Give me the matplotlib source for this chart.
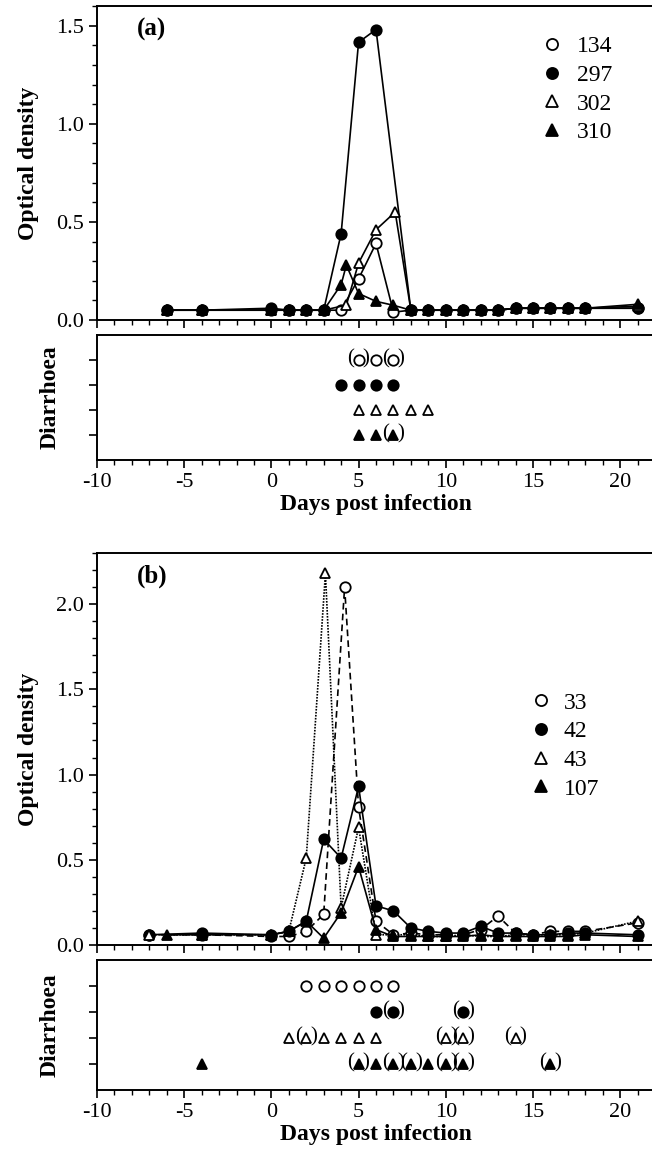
import matplotlib
matplotlib.use("Agg")
import matplotlib.pyplot as plt
from matplotlib.lines import Line2D
from matplotlib.ticker import MultipleLocator, FormatStrFormatter

plt.rcParams['font.family'] = ['Liberation Serif', 'DejaVu Serif']
plt.rcParams['axes.unicode_minus'] = False

# ---- panel (a) optical density ----
days_134 = [-6, -4, 0, 1, 2, 3, 4, 5, 6, 7, 8, 9, 10, 11, 12, 13, 14, 15, 16, 17, 18, 21]
od_134 = [0.05, 0.05, 0.05, 0.05, 0.05, 0.05, 0.05, 0.21, 0.39, 0.04, 0.05, 0.05, 0.05, 0.05,
          0.05, 0.05, 0.06, 0.06, 0.06, 0.06, 0.06, 0.06]
days_297 = [-6, -4, 0, 1, 2, 3, 4, 5, 6, 8, 9, 10, 11, 12, 13, 14, 15, 16, 17, 18, 21]
od_297 = [0.05, 0.05, 0.06, 0.05, 0.05, 0.05, 0.44, 1.415, 1.48, 0.05, 0.05, 0.05, 0.05,
          0.05, 0.05, 0.06, 0.06, 0.06, 0.06, 0.06, 0.06]
days_302 = [-6, -4, 0, 1, 2, 3, 4.3, 5, 6, 7.1, 8, 9, 10, 11, 12, 13, 14, 15, 16, 17, 18, 21]
od_302 = [0.05, 0.05, 0.05, 0.05, 0.05, 0.05, 0.076, 0.29, 0.46, 0.55, 0.05, 0.05, 0.05, 0.05,
          0.05, 0.05, 0.06, 0.06, 0.06, 0.06, 0.06, 0.07]
days_310 = [-6, -4, 0, 1, 2, 3, 4, 4.3, 5, 6, 7, 8, 9, 10, 11, 12, 13, 14, 15, 16, 17, 18, 21]
od_310 = [0.05, 0.05, 0.05, 0.05, 0.05, 0.05, 0.18, 0.28, 0.135, 0.095, 0.075, 0.05, 0.05,
          0.05, 0.05, 0.05, 0.05, 0.06, 0.06, 0.06, 0.06, 0.06, 0.08]

# ---- panel (b) optical density ----
days_33 = [-7, -4, 0, 1, 2, 3, 4.2, 5, 6, 7, 8, 9, 10, 11, 12, 13, 14, 15, 16, 17, 18, 21]
od_33 = [0.06, 0.06, 0.05, 0.05, 0.08, 0.18, 2.10, 0.81, 0.14, 0.06, 0.07, 0.06, 0.06, 0.06,
         0.09, 0.17, 0.07, 0.06, 0.08, 0.08, 0.08, 0.13]
days_42 = [-7, -4, 0, 1, 2, 3, 4, 5, 6, 7, 8, 9, 10, 11, 12, 13, 14, 15, 16, 17, 18, 21]
od_42 = [0.06, 0.07, 0.06, 0.08, 0.14, 0.62, 0.51, 0.93, 0.23, 0.20, 0.10, 0.08, 0.07, 0.07,
         0.11, 0.07, 0.07, 0.06, 0.06, 0.07, 0.07, 0.06]
days_43 = [-7, -4, 0, 1, 2, 3.1, 4, 5, 6, 7, 8, 9, 10, 11, 12, 13, 14, 15, 16, 17, 18, 21]
od_43 = [0.06, 0.06, 0.06, 0.08, 0.51, 2.18, 0.22, 0.69, 0.06, 0.06, 0.06, 0.05, 0.05, 0.06,
         0.05, 0.05, 0.06, 0.06, 0.06, 0.06, 0.07, 0.14]
days_107 = [-6, -4, 0, 1, 2, 3, 4, 5, 6, 7, 8, 9, 10, 11, 12, 13, 14, 15, 16, 17, 18, 21]
od_107 = [0.06, 0.06, 0.06, 0.08, 0.14, 0.04, 0.19, 0.46, 0.09, 0.05, 0.05, 0.05, 0.05, 0.05,
          0.06, 0.05, 0.05, 0.05, 0.05, 0.05, 0.06, 0.05]

# ---- diarrhoea days (1 = bracketed) ----
dia_a_134 = [5, 6, 7];            br_a_134 = [1, 0, 1]
dia_a_297 = [4, 5, 6, 7];         br_a_297 = [0, 0, 0, 0]
dia_a_302 = [5, 6, 7, 8, 9];      br_a_302 = [0, 0, 0, 0, 0]
dia_a_310 = [5, 6, 7];            br_a_310 = [0, 0, 1]

dia_b_33 = [2, 3, 4, 5, 6, 7];    br_b_33 = [0, 0, 0, 0, 0, 0]
dia_b_42 = [6, 7, 11];            br_b_42 = [0, 1, 1]
dia_b_43 = [1, 2, 3, 4, 5, 6, 10, 11, 14]
br_b_43 = [0, 1, 0, 0, 0, 0, 1, 1, 1]
dia_b_107 = [-4, 5, 6, 7, 8, 9, 10, 11, 16]
br_b_107 = [0, 1, 0, 1, 1, 0, 1, 1, 1]

W, H = 652, 1162
fig = plt.figure(figsize=(W / 100, H / 100), dpi=100)


def rect(l, t, r, b):
    return [l / W, 1 - b / H, (r - l) / W, (b - t) / H]


LEFT, RIGHT = 97, 655
XMIN, XMAX = -10, 22

styles = {
    'oo': dict(marker='o', mfc='white', mec='black'),
    'of': dict(marker='o', mfc='black', mec='black'),
    'to': dict(marker='^', mfc='white', mec='black'),
    'tf': dict(marker='^', mfc='black', mec='black'),
}


def style_axes(ax):
    for s in ax.spines.values():
        s.set_linewidth(1.4)
    ax.set_xlim(XMIN, XMAX)
    ax.xaxis.set_major_locator(MultipleLocator(5))
    ax.xaxis.set_minor_locator(MultipleLocator(1))
    ax.tick_params(axis='both', which='major', direction='out', length=6, width=1.2,
                   labelsize=16, top=False, right=False)
    ax.tick_params(axis='both', which='minor', direction='out', length=3.5, width=1.0,
                   top=False, right=False)


def od_panel(ax, series, ymax, tag, tag_y):
    for d, v, st, ls in series:
        ax.plot(d, v, color='black', lw=1.2, ls=ls, ms=7.5, mew=1.3,
                **styles[st], zorder=3)
    style_axes(ax)
    ax.set_ylim(0, ymax)
    ax.yaxis.set_major_locator(MultipleLocator(0.5))
    ax.yaxis.set_minor_locator(MultipleLocator(0.1))
    ax.yaxis.set_major_formatter(FormatStrFormatter('%.1f'))
    ax.tick_params(axis='x', which='both', labelbottom=False)
    ax.set_ylabel('Optical density', fontsize=17, fontweight='bold', labelpad=12)
    ax.text(0.072, tag_y, tag, transform=ax.transAxes, fontsize=18, fontweight='bold',
            va='center', ha='left')


def dia_panel(ax, rows):
    for lvl, (d, br, st) in zip([4, 3, 2, 1], rows):
        ax.plot(d, [lvl] * len(d), ls='none', ms=7.5, mew=1.3, color='black', **styles[st])
        for x, b in zip(d, br):
            if b:
                ax.annotate('(', (x, lvl), xytext=(-5.5, 0.5), textcoords='offset points',
                            ha='center', va='center', fontsize=15)
                ax.annotate(')', (x, lvl), xytext=(5.5, 0.5), textcoords='offset points',
                            ha='center', va='center', fontsize=15)
    style_axes(ax)
    ax.set_ylim(0, 5)
    ax.set_yticks([1, 2, 3, 4])
    ax.tick_params(axis='y', labelleft=False)
    ax.set_ylabel('Diarrhoea', fontsize=17, fontweight='bold', labelpad=20)
    ax.set_xlabel('Days post infection', fontsize=17, fontweight='bold', labelpad=1)


h = [Line2D([], [], ls='none', color='black', ms=8, mew=1.3, **styles[k])
     for k in ['oo', 'of', 'to', 'tf']]

# panel (a)
ax1 = fig.add_axes(rect(LEFT, 6, RIGHT, 320))
od_panel(ax1, [(days_134, od_134, 'oo', '-'), (days_297, od_297, 'of', '-'),
               (days_302, od_302, 'to', '-'), (days_310, od_310, 'tf', '-')],
         1.6, '(a)', 0.925)
ax1.legend(h, ['134', '297', '302', '310'], loc='upper left', bbox_to_anchor=(0.795, 0.905),
           frameon=False, fontsize=17, handlelength=1.0, handletextpad=0.55,
           labelspacing=0.3, borderpad=0, borderaxespad=0)

ax2 = fig.add_axes(rect(LEFT, 335, RIGHT, 460))
dia_panel(ax2, [(dia_a_134, br_a_134, 'oo'), (dia_a_297, br_a_297, 'of'),
                (dia_a_302, br_a_302, 'to'), (dia_a_310, br_a_310, 'tf')])

# panel (b)
ax3 = fig.add_axes(rect(LEFT, 553, RIGHT, 945))
od_panel(ax3, [(days_33, od_33, 'oo', (0, (4, 2.5))), (days_42, od_42, 'of', '-'),
               (days_43, od_43, 'to', (0, (1, 0.8))), (days_107, od_107, 'tf', '-')],
         2.3, '(b)', 0.94)
ax3.legend(h, ['33', '42', '43', '107'], loc='upper left', bbox_to_anchor=(0.775, 0.645),
           frameon=False, fontsize=17, handlelength=1.0, handletextpad=0.45,
           labelspacing=0.3, borderpad=0, borderaxespad=0)

ax4 = fig.add_axes(rect(LEFT, 960, RIGHT, 1090))
dia_panel(ax4, [(dia_b_33, br_b_33, 'oo'), (dia_b_42, br_b_42, 'of'),
                (dia_b_43, br_b_43, 'to'), (dia_b_107, br_b_107, 'tf')])

fig.savefig('out.png', dpi=100)
